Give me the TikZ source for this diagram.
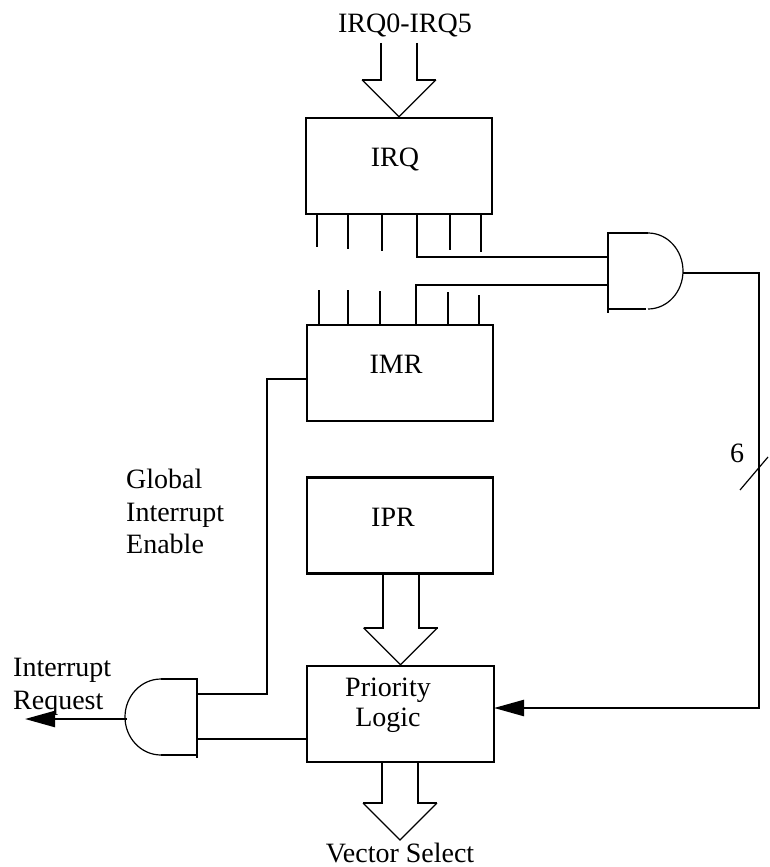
\documentclass[tikz,border=0pt]{standalone}
\usepackage{fontspec}
\setmainfont{Liberation Serif}
\usetikzlibrary{arrows.meta}
\tikzset{
  box/.style={draw, line width=2.4pt, minimum width=186pt, minimum height=96pt, inner sep=0pt},
  txt/.style={font=\fontsize{28}{32.5}\selectfont, inner sep=0pt},
  wire/.style={line width=2.4pt},
  busw/.style={line width=2pt},
  thinw/.style={line width=1.2pt},
  tip/.style={-{Triangle[length=30pt,width=16pt]}},
  pics/fatarrow/.style={code={
    \draw[busw] (-18,-37-#1) -- (-18,-37) -- (-37,-37);
    \draw[busw] (18,-37-#1) -- (18,-37) -- (37,-37);
    \draw[thinw, line join=miter] (-37,-37) -- (0,0) -- (37,-37);
  }}
}
\begin{document}
\begin{tikzpicture}[x=1pt,y=-1pt]
\useasboundingbox (0,0) rectangle (769,867);

% boxes
\node[box] (irq) at (399,166) {};
\node[box] (imr) at (400,373) {};
\node[box] (ipr) at (400,525.5) {};
\node[box, minimum width=187pt] (prio) at (400.5,714) {};

% box texts
\node[txt, anchor=base] (irqt) at (395,166) {IRQ};
\node[txt, anchor=base] (imrt) at (396,373) {IMR};
\node[txt, anchor=base] (iprt) at (393,526) {IPR};
\node[txt, align=center, anchor=north, font=\fontsize{28}{30}\selectfont] (priot) at (388,678) {Priority\\Logic};

% other texts
\node[txt, anchor=base] (irqin) at (405,33) {IRQ0-IRQ5};
\node[txt, anchor=base] (vsel) at (400,862) {Vector Select};
\node[txt, anchor=base] (six) at (737,462) {6};
\node[txt, align=left, anchor=north west] (gie) at (126,469) {Global\\Interrupt\\Enable};
\node[txt, align=left, anchor=north west] (ireq) at (13,658) {Interrupt\\Request};

% fat arrows
\pic at (irq.north) {fatarrow=37};
\pic at (prio.north) {fatarrow=55};
\pic at (400,840) {fatarrow=40};

% bit ticks
\foreach \x/\y in {317/247,348/249,382/251,450/250,481/252}
  \draw[wire] (\x,215) -- (\x,\y);
\foreach \x/\y in {319/290,348/290,380/291,448/292,479/295}
  \draw[wire] (\x,\y) -- (\x,325);

% gate 1
\draw[wire] (648,233) -- (608,233) -- (608,313);
\draw[wire] (608,309) -- (646,309);
\draw[thinw] (648,233) arc[start angle=-90, end angle=90, x radius=35, y radius=38];
\coordinate (g1a) at (608,257);
\coordinate (g1b) at (608,285);
\coordinate (g1o) at (683,273);

% gate 2
\draw[wire] (161,679) -- (197,679) -- (197,758);
\draw[wire] (197,755) -- (161,755);
\draw[thinw] (161,679) arc[start angle=-90, end angle=-270, x radius=36, y radius=38];
\coordinate (g2a) at (197,694);
\coordinate (g2b) at (197,739);
\coordinate (g2o) at (127,719);

% connection points
\coordinate (irq4) at (417,215);
\coordinate (imr4) at (416,325);
\coordinate (imrl) at (307,379);
\coordinate (giec) at (267,694);
\coordinate (fbc) at (759,708);
\coordinate (prioin) at (494,708);
\coordinate (prioout) at (307,739);
\coordinate (irqout) at (25,719);

% connectors
\draw[wire] (irq4) |- (g1a);
\draw[wire] (imr4) |- (g1b);
\draw[wire, tip] (g1o) -| (fbc) -- (prioin);
\draw[thinw] (740,490) -- (768,457);
\draw[wire] (imrl) -| (giec) -- (g2a);
\draw[wire] (prioout) -- (g2b);
\draw[wire, tip] (g2o) -- (irqout);
\end{tikzpicture}
\end{document}
